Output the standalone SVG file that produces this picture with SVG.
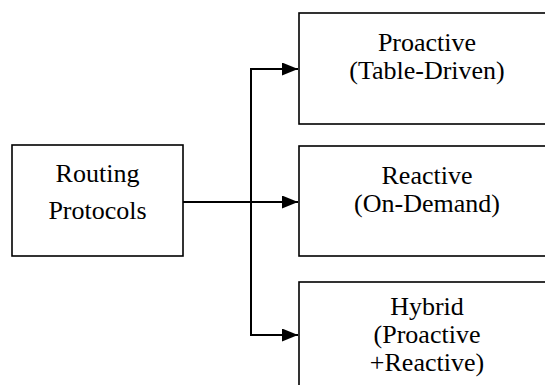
<svg xmlns="http://www.w3.org/2000/svg" width="545" height="385" viewBox="0 0 545 385">
<style>
.box{fill:#fff;stroke:#000;stroke-width:1.6}
.lbl{font-family:"Liberation Serif","Times New Roman",serif;font-size:26px;fill:#000;text-anchor:middle}
.con{fill:none;stroke:#000;stroke-width:2}
</style>
<defs>
<marker id="ah" markerUnits="userSpaceOnUse" markerWidth="16" markerHeight="13" refX="16" refY="6.5" orient="auto">
<path d="M0,0 L16,6.5 L0,13 Z" fill="#000"/>
</marker>
</defs>
<rect width="545" height="385" fill="#fff"/>
<g id="routing">
<rect class="box" x="12" y="145" width="171" height="111"/>
<text class="lbl" x="97.5" y="182">Routing</text>
<text class="lbl" x="97.5" y="219">Protocols</text>
</g>
<g id="proactive">
<rect class="box" x="299" y="13" width="260" height="111"/>
<text class="lbl" x="427" y="51">Proactive</text>
<text class="lbl" x="427" y="79">(Table-Driven)</text>
</g>
<g id="reactive">
<rect class="box" x="299" y="146" width="260" height="110"/>
<text class="lbl" x="427" y="184">Reactive</text>
<text class="lbl" x="427" y="212">(On-Demand)</text>
</g>
<g id="hybrid">
<rect class="box" x="299" y="282" width="260" height="120"/>
<text class="lbl" x="427" y="315">Hybrid</text>
<text class="lbl" x="427" y="343">(Proactive</text>
<text class="lbl" x="427" y="371">+Reactive)</text>
</g>
<g id="connectors">
<path class="con" d="M183,202 H298" marker-end="url(#ah)"/>
<path class="con" d="M251,69 V335"/>
<path class="con" d="M250,69 H298" marker-end="url(#ah)"/>
<path class="con" d="M250,335 H298" marker-end="url(#ah)"/>
</g>
</svg>
